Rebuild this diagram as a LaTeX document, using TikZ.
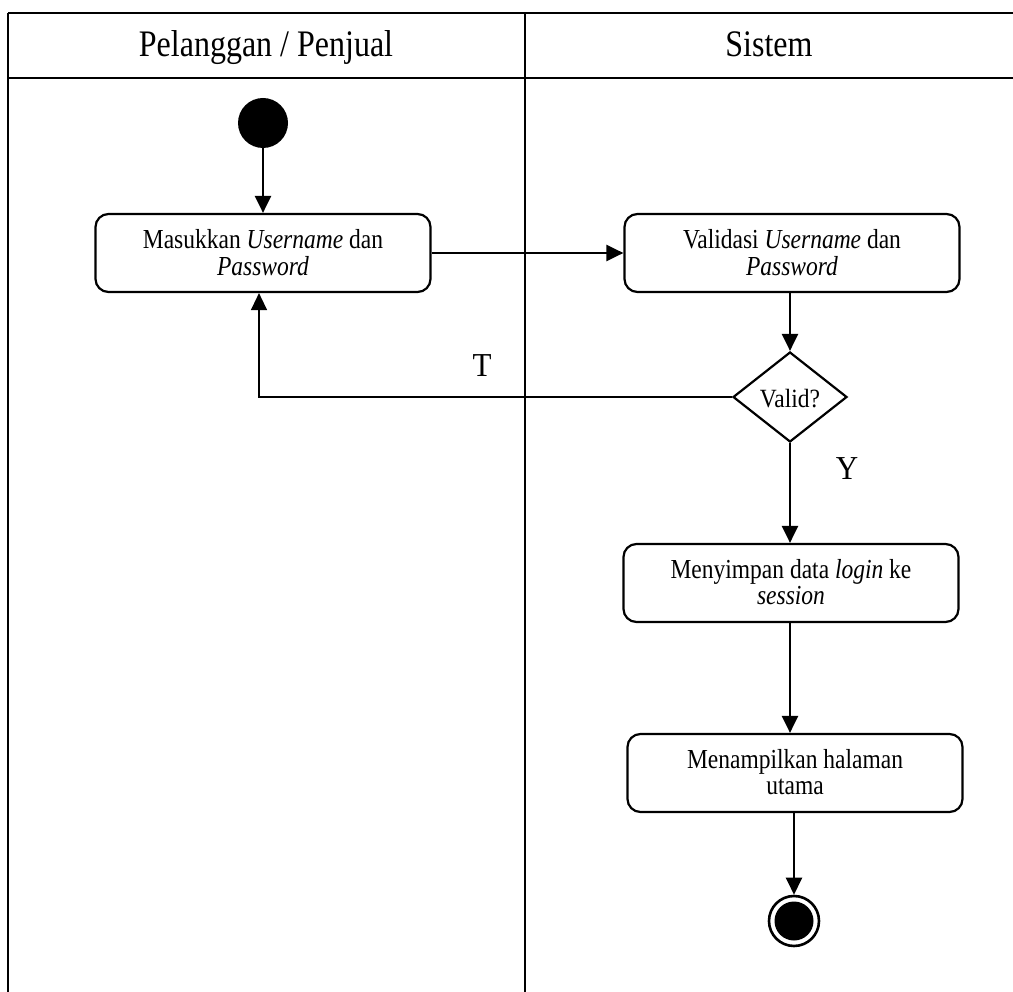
\documentclass[tikz,border=0pt]{standalone}
\usepackage{fontspec}
\setmainfont{Liberation Serif}
\usetikzlibrary{arrows.meta,shapes.geometric}

% text set slightly taller than its natural proportions, lowered a little
% while its box keeps its size so the node outline stays put
\newcommand{\tallstack}[1]{\raisebox{-3pt}[\height][\depth]{\scalebox{1}[1.17]{\begin{tabular}{@{}c@{}}#1\end{tabular}}}}

\tikzset{
  lane/.style={line width=2.8pt},
  action/.style={draw, line width=2.2pt, rounded corners=13pt,
    minimum width=335pt, minimum height=78pt, align=center,
    font=\fontsize{23.5}{22.5}\selectfont, inner sep=0pt},
  decision/.style={draw, diamond, line width=2.2pt, minimum width=114pt,
    minimum height=90pt, inner sep=0pt, aspect=1.27,
    font=\fontsize{23.5}{22.5}\selectfont},
  flow/.style={line width=2.4pt, -{Triangle[width=16pt,length=17pt]}},
  backflow/.style={line width=1.4pt, -{Triangle[width=16pt,length=17pt]}},
  headtext/.style={font=\fontsize{32}{36}\selectfont, anchor=base},
  guard/.style={font=\fontsize{31}{34}\selectfont},
}

\begin{document}
\begin{tikzpicture}[x=1pt, y=-1pt]
  \useasboundingbox (0,0) rectangle (1013,992);

  % swimlane frame
  \draw[lane] (8,13) -- (1013,13);
  \draw[lane] (8,78) -- (1013,78);
  \draw[lane] (8,13) -- (8,992);
  \draw[lane] (525,13) -- (525,992);

  \node[headtext] (laneA) at (266,57) {\scalebox{1}[1.17]{Pelanggan / Penjual}};
  \node[headtext] (laneB) at (769,57) {\scalebox{1}[1.17]{Sistem}};

  % start node
  \node[circle, fill=black, minimum size=50pt, inner sep=0pt] (start) at (263,123) {};

  % actions
  \node[action] (input) at (263,253) {\tallstack{Masukkan \textit{Username} dan\\\textit{Password}}};
  \node[action] (check) at (792,253) {\tallstack{Validasi \textit{Username} dan\\\textit{Password}}};
  \node[decision] (dia) at (790,397) {\raisebox{-2pt}[\height][\depth]{\scalebox{1}[1.12]{Valid?}}};
  \node[action] (save) at (791,583) {\tallstack{Menyimpan data \textit{login} ke\\\textit{session}}};
  \node[action] (home) at (795,773) {\tallstack{Menampilkan halaman\\utama}};

  % end node
  \node[circle, draw, line width=2.6pt, minimum size=50pt, inner sep=0pt] (stop) at (794,921) {};
  \fill (stop.center) circle (19.5);

  % guard labels
  \node[guard] (lblT) at (482,366) {\scalebox{1}[1.08]{T}};
  \node[guard] (lblY) at (847,469) {\scalebox{1}[1.08]{Y}};

  % control flow
  \draw[flow] (start) -- (input);
  \draw[flow] (input) -- (check);
  \draw[flow] (dia |- check.south) -- (dia.north);
  \draw[backflow] (dia.west) -| ([xshift=-4pt]input.south);
  \draw[flow] (dia.south) -- (dia |- save.north);
  \draw[flow] (dia |- save.south) -- (dia |- home.north);
  \draw[flow] (stop |- home.south) -- (stop.north);
\end{tikzpicture}
\end{document}
